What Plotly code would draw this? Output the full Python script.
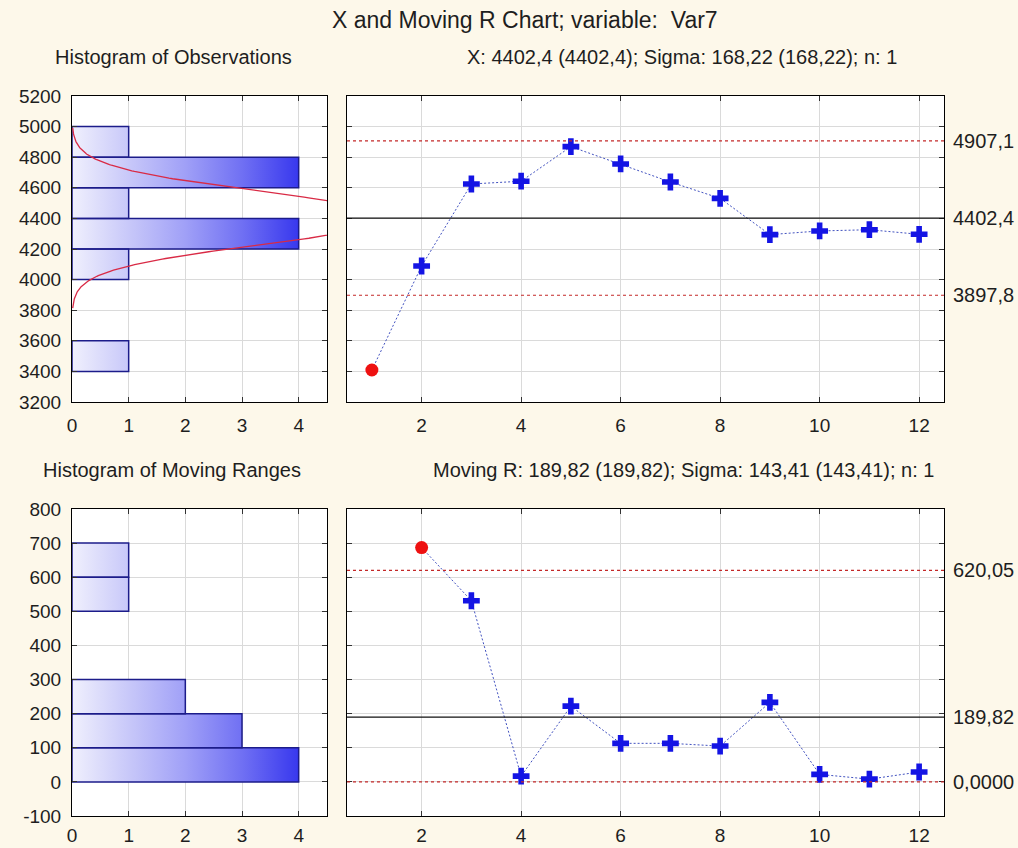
import numpy as np
import plotly.graph_objects as go

# ---------------- data ----------------
obs_index = [1, 2, 3, 4, 5, 6, 7, 8, 9, 10, 11, 12]
obs_values = [3409, 4089, 4625, 4643, 4869, 4756, 4638, 4531, 4294, 4318, 4326, 4296]

mr_index = [2, 3, 4, 5, 6, 7, 8, 9, 10, 11, 12]
mr_values = [687, 531, 17, 222, 113, 113, 105, 233, 22, 8, 29]

obs_bin_low = [3400, 3600, 3800, 4000, 4200, 4400, 4600, 4800]
obs_bin_count = [1, 0, 0, 1, 4, 1, 4, 1]
obs_bin_width = 200

mr_bin_low = [0, 100, 200, 300, 400, 500, 600]
mr_bin_count = [4, 3, 2, 0, 0, 1, 1]
mr_bin_width = 100

x_center, x_ucl, x_lcl = 4402.4, 4907.1, 3897.8
x_sigma = 168.22
x_limit_labels = ["4907,1", "4402,4", "3897,8"]

mr_center, mr_ucl, mr_lcl = 189.82, 620.05, 0.0
mr_limit_labels = ["620,05", "189,82", "0,0000"]

hist_ticks = [0, 1, 2, 3, 4]
run_ticks = [2, 4, 6, 8, 10, 12]
obs_axis_ticks = [3200, 3400, 3600, 3800, 4000, 4200, 4400, 4600, 4800, 5000, 5200]
mr_axis_ticks = [-100, 0, 100, 200, 300, 400, 500, 600, 700, 800]

main_title = "X and Moving R Chart; variable:  Var7"
sub_hist_obs = "Histogram of Observations"
sub_x = "X: 4402,4 (4402,4); Sigma: 168,22 (168,22); n: 1"
sub_hist_mr = "Histogram of Moving Ranges"
sub_mr = "Moving R: 189,82 (189,82); Sigma: 143,41 (143,41); n: 1"

# ---------------- style ----------------
W, H = 1018, 848
BG = "#fdf8ea"
FONT = "Liberation Sans, Arial, sans-serif"
TXT = "#1e1e1e"
GRID = "#dadada"
BAR_LINE = "#1c1c8a"
GRAD = [[0, "#f0f0fd"], [0.25, "#c8c8f9"], [0.5, "#a0a0f7"], [0.75, "#7070f3"], [1, "#3838ee"]]


def px_x(p):
    return p / W


def px_y(p):
    return 1 - p / H


fig = go.Figure()


def hist_polygons(lows, counts, width):
    xs, ys = [], []
    for lo, c in zip(lows, counts):
        if c <= 0:
            continue
        xs += [0, c, c, 0, 0, None]
        ys += [lo, lo, lo + width, lo + width, lo, None]
    return xs, ys


# histogram of observations
hx, hy = hist_polygons(obs_bin_low, obs_bin_count, obs_bin_width)
fig.add_trace(go.Scatter(
    x=hx, y=hy, xaxis="x", yaxis="y", mode="lines", fill="toself",
    line=dict(color=BAR_LINE, width=1.5),
    fillgradient=dict(type="horizontal", colorscale=GRAD, start=0, stop=4),
    hoverinfo="skip", showlegend=False))

# fitted normal curve (from the stated mean and sigma), shown where it is visibly non-zero
n_obs = len(obs_values)
yy = np.linspace(obs_bin_low[0], obs_bin_low[-1] + obs_bin_width, 400)
xx = n_obs * obs_bin_width / (x_sigma * np.sqrt(2 * np.pi)) * np.exp(-0.5 * ((yy - x_center) / x_sigma) ** 2)
keep = xx >= 0.012
fig.add_trace(go.Scatter(
    x=xx[keep], y=yy[keep], xaxis="x", yaxis="y", mode="lines",
    line=dict(color="#d92a45", width=1.3), hoverinfo="skip", showlegend=False))

# histogram of moving ranges
mx, my = hist_polygons(mr_bin_low, mr_bin_count, mr_bin_width)
fig.add_trace(go.Scatter(
    x=mx, y=my, xaxis="x3", yaxis="y3", mode="lines", fill="toself",
    line=dict(color=BAR_LINE, width=1.5),
    fillgradient=dict(type="horizontal", colorscale=GRAD, start=0, stop=4),
    hoverinfo="skip", showlegend=False))


def run_chart(xs, vals, lcl, ucl, xa, ya):
    fig.add_trace(go.Scatter(
        x=xs, y=vals, xaxis=xa, yaxis=ya, mode="lines",
        line=dict(color="#4252c0", width=1, dash="2px,2px"),
        hoverinfo="skip", showlegend=False))
    inx = [x for x, v in zip(xs, vals) if lcl <= v <= ucl]
    inv = [v for v in vals if lcl <= v <= ucl]
    outx = [x for x, v in zip(xs, vals) if not (lcl <= v <= ucl)]
    outv = [v for v in vals if not (lcl <= v <= ucl)]
    fig.add_trace(go.Scatter(
        x=inx, y=inv, xaxis=xa, yaxis=ya, mode="markers",
        marker=dict(symbol="cross", size=14, color="#1414e4", line=dict(width=0)),
        showlegend=False))
    fig.add_trace(go.Scatter(
        x=outx, y=outv, xaxis=xa, yaxis=ya, mode="markers",
        marker=dict(symbol="circle", size=13, color="#ee1111", line=dict(width=0)),
        showlegend=False))


run_chart(obs_index, obs_values, x_lcl, x_ucl, "x2", "y2")
run_chart(mr_index, mr_values, mr_lcl, mr_ucl, "x4", "y4")

shapes = []
annotations = []


def limits(center, ucl, lcl, labels, xa, ya):
    for val, lab in zip([ucl, center, lcl], labels):
        is_center = val == center
        shapes.append(dict(
            type="line", xref=f"{xa} domain", yref=ya, x0=0, x1=1, y0=val, y1=val,
            line=dict(color="#111111" if is_center else "#c42828",
                      width=1.3 if is_center else 1.2,
                      dash="solid" if is_center else "3px,3px"),
            layer="above"))
        annotations.append(dict(
            xref=f"{xa} domain", yref=ya, x=1, y=val, xanchor="left", yanchor="middle",
            xshift=7, text=lab, showarrow=False, font=dict(family=FONT, size=20, color=TXT)))


limits(x_center, x_ucl, x_lcl, x_limit_labels, "x2", "y2")
limits(mr_center, mr_ucl, mr_lcl, mr_limit_labels, "x4", "y4")

for txt, cx, cy, sz in [
    (main_title, 525, 20, 23),
    (sub_hist_obs, 173, 57, 20),
    (sub_x, 682, 57, 20),
    (sub_hist_mr, 172, 470, 20),
    (sub_mr, 683, 470, 20),
]:
    annotations.append(dict(
        xref="paper", yref="paper", x=px_x(cx), y=px_y(cy), xanchor="center", yanchor="middle",
        text=txt, showarrow=False, font=dict(family=FONT, size=sz, color=TXT)))

axis_common = dict(
    showline=True, linecolor="#000000", linewidth=1, mirror="ticks",
    ticks="inside", ticklen=5, tickcolor="#333333",
    showgrid=True, gridcolor=GRID, gridwidth=1, zeroline=False,
    tickfont=dict(family=FONT, size=19, color=TXT),
    fixedrange=True, automargin=False,
)

left_dom = [px_x(72), px_x(327)]
right_dom = [px_x(347), px_x(944)]
top_dom = [px_y(402), px_y(96)]
bot_dom = [px_y(816), px_y(509)]

fig.update_layout(
    width=W, height=H,
    margin=dict(l=0, r=0, t=0, b=0, autoexpand=False),
    paper_bgcolor=BG, plot_bgcolor="#ffffff",
    showlegend=False,
    shapes=shapes, annotations=annotations,
    xaxis=dict(axis_common, domain=left_dom, anchor="y", range=[0, 4.5],
               tickvals=hist_ticks, ticklabelstandoff=6),
    yaxis=dict(axis_common, domain=top_dom, anchor="x", range=[3200, 5200],
               tickvals=obs_axis_ticks, ticktext=[str(v) for v in obs_axis_ticks],
               ticklabelstandoff=6),
    xaxis2=dict(axis_common, domain=right_dom, anchor="y2", range=[0.5, 12.5],
                tickvals=run_ticks, ticklabelstandoff=6),
    yaxis2=dict(axis_common, domain=top_dom, anchor="x2", range=[3200, 5200],
                tickvals=obs_axis_ticks, showticklabels=False),
    xaxis3=dict(axis_common, domain=left_dom, anchor="y3", range=[0, 4.5],
                tickvals=hist_ticks, ticklabelstandoff=2),
    yaxis3=dict(axis_common, domain=bot_dom, anchor="x3", range=[-100, 800],
                tickvals=mr_axis_ticks, ticktext=[str(v) for v in mr_axis_ticks],
                ticklabelstandoff=6),
    xaxis4=dict(axis_common, domain=right_dom, anchor="y4", range=[0.5, 12.5],
                tickvals=run_ticks, ticklabelstandoff=2),
    yaxis4=dict(axis_common, domain=bot_dom, anchor="x4", range=[-100, 800],
                tickvals=mr_axis_ticks, showticklabels=False),
)

fig.write_html("out.html", config={"displayModeBar": False},
               post_script="document.body.style.margin='0px';")
